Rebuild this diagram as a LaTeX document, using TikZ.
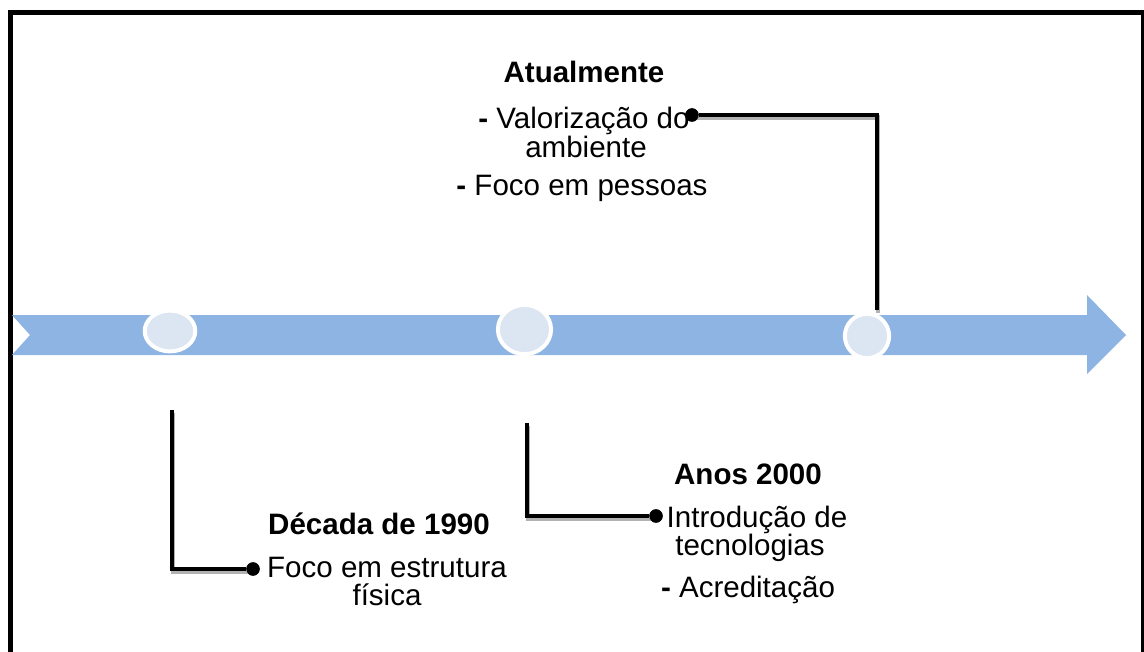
\documentclass[tikz,border=0pt]{standalone}
\usepackage{fontspec}
\setmainfont{Liberation Sans}
\usetikzlibrary{shapes.geometric}

\definecolor{barra}{HTML}{8EB4E3}
\definecolor{cerchio}{HTML}{DCE6F2}

\tikzset{
  link/.style={line width=3.5pt},
  ombra/.style={line width=3.5pt, gray!60},
  punto/.style={circle, fill=black, inner sep=0pt, minimum size=9.5pt},
  tappa/.style={ellipse, draw=white, line width=2.8pt, fill=cerchio, inner sep=0pt},
  riga/.style={anchor=base, inner sep=0pt, font=\fontsize{21}{24}\selectfont},
  titolo/.style={riga, font=\fontsize{21}{24}\selectfont\bfseries},
}

\begin{document}
\begin{tikzpicture}[x=0.025cm, y=-0.025cm]
    \useasboundingbox (0,0) rectangle (1144,651);
    \clip (0,0) rectangle (1144,651);

    % Disegna la cornice
    \draw[line width=3pt] (10.5,12.5) rectangle (1143.5,680);

    % Disegna la freccia
    \fill[barra] (12,315) -- (1087,315) -- (1087,295) -- (1126,335) -- (1087,374)
        -- (1087,355) -- (12,355) -- (30,335) -- cycle;

    % Punti di partenza e arrivo dei collegamenti
    \coordinate (t1) at (172,410);
    \coordinate (t2) at (527,423);
    \coordinate (t3) at (877,310);
    \node[punto] (d1) at (253,569) {};
    \node[punto] (d2) at (656,516) {};
    \node[punto] (d3) at (692,115) {};

    % Ombre
    \draw[ombra] ([shift={(1,2.5)}]t1) |- ([shift={(1,2.5)}]d1.center);
    \draw[ombra] ([shift={(1,2.5)}]t2) |- ([shift={(1,2.5)}]d2.center);
    \draw[ombra] ([shift={(1,2.5)}]d3.center) -| ([shift={(1,2.5)}]t3);

    % Collegamenti
    \draw[link] (t1) |- (d1);
    \draw[link] (t2) |- (d2);
    \draw[link] (d3) -| (t3);
    \node[punto] at (d1) {};
    \node[punto] at (d2) {};
    \node[punto] at (d3) {};

    % Tappe sulla freccia
    \node[tappa, minimum width=36pt, minimum height=29pt] (c1) at (170,331) {};
    \node[tappa, minimum width=37.8pt, minimum height=35pt] (c2) at (524.5,329.5) {};
    \node[tappa, minimum width=31.5pt, minimum height=31.5pt] (c3) at (867,336) {};

    % Testi
    \node[titolo] (att) at (584,82) {Atualmente};
    \node[riga] (att1) at (584,128) {\textbf{-} Valorização do};
    \node[riga] (att2) at (586,157) {ambiente};
    \node[riga] (att3) at (582,195) {\textbf{-} Foco em pessoas};

    \node[titolo] (dec) at (379,534) {Década de 1990};
    \node[riga] (dec1) at (387,577) {Foco em estrutura};
    \node[riga] (dec2) at (387,605) {física};

    \node[titolo] (ano) at (748,484) {Anos 2000};
    \node[riga] (ano1) at (757,527) {Introdução de};
    \node[riga] (ano2) at (750,555) {tecnologias};
    \node[riga] (ano3) at (748,597) {\textbf{-} Acreditação};

\end{tikzpicture}
\end{document}
